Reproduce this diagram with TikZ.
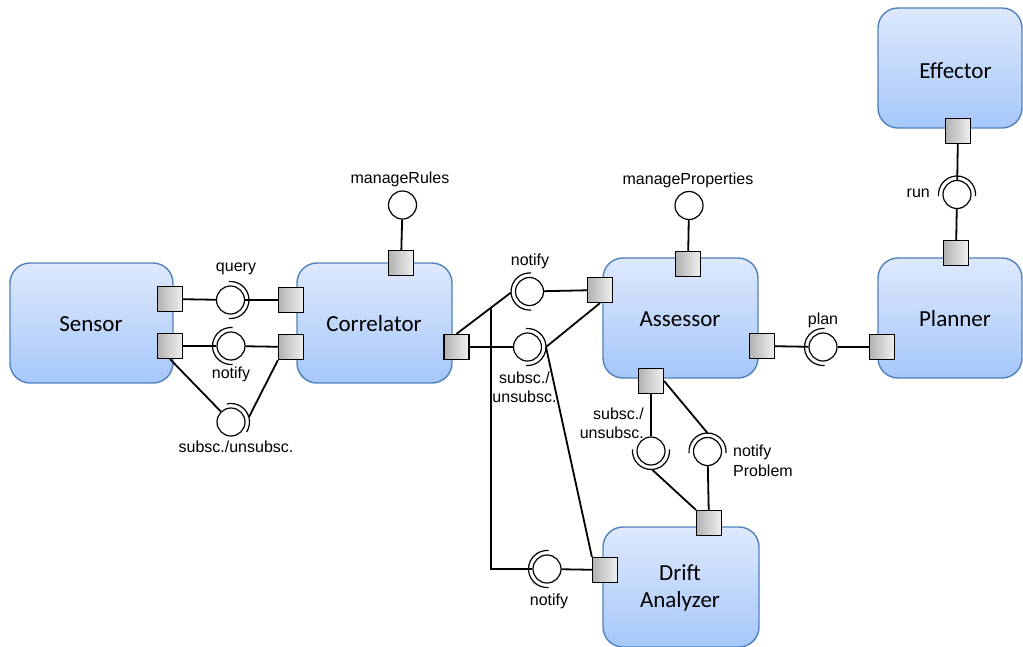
\documentclass[tikz,border=0pt]{standalone}
\usepackage{fontspec}
\setmainfont{Carlito}
\newfontfamily\labelfont{Liberation Sans}
\usetikzlibrary{calc}

\definecolor{boxline}{RGB}{79,129,189}
\definecolor{boxtop}{RGB}{222,233,252}
\definecolor{boxbot}{RGB}{166,199,250}
\definecolor{portl}{RGB}{178,178,178}
\definecolor{portr}{RGB}{240,240,240}

% half-circle socket around an interface circle; #3 = page direction of the opening side, #1 = half span
\newcommand\socketarc[3][95]{%
  \draw[sock] (#2.center) ++({-(#3)-(#1)}:18.5)
    arc[start angle={-(#3)-(#1)}, end angle={-(#3)+(#1)}, radius=18.5];}

\begin{document}
\begin{tikzpicture}[x=1pt,y=-1pt,
  comp/.style={draw=boxline, line width=1.4pt, rounded corners=20pt,
    top color=boxtop, bottom color=boxbot, inner sep=0pt},
  ctext/.style={font=\fontsize{23}{27}\selectfont, inner sep=0pt, anchor=base},
  port/.style={draw=black, line width=1.2pt, left color=portl, right color=portr,
    minimum size=25pt, inner sep=0pt},
  iface/.style={circle, draw=black, line width=1.2pt, fill=white,
    minimum size=28pt, inner sep=0pt},
  sock/.style={line width=1.2pt, black},
  wire/.style={line width=1.8pt, black},
  lbl/.style={font=\labelfont\fontsize{16}{19.5}\selectfont, inner sep=0pt}]

\useasboundingbox (0,0) rectangle (1023,646);

% components
\node[comp, minimum width=163pt, minimum height=120pt] (sensor) at (91.5,323) {};
\node[comp, minimum width=155pt, minimum height=120pt] (correlator) at (374.5,323) {};
\node[comp, minimum width=155pt, minimum height=120pt] (assessor) at (680.5,318) {};
\node[comp, minimum width=144pt, minimum height=120pt] (planner) at (950,318) {};
\node[comp, minimum width=144pt, minimum height=120pt] (effector) at (950,68) {};
\node[comp, minimum width=156pt, minimum height=120pt] (drift) at (681,587) {};

\node[ctext] (sensorT) at (91,331) {Sensor};
\node[ctext] (correlatorT) at (374,331) {Correlator};
\node[ctext] (assessorT) at (680,326) {Assessor};
\node[ctext] (plannerT) at (955,326.5) {Planner};
\node[ctext] (effectorT) at (955.5,78) {Effector};
\node[ctext] (driftT1) at (680,580) {Drift};
\node[ctext] (driftT2) at (680,607) {Analyzer};

% ports
\node[port] (sp1) at (170,299) {};
\node[port] (sp2) at (170,346) {};
\node[port] (cp1) at (291,300) {};
\node[port] (cp2) at (291,347) {};
\node[port] (cpt) at (401,263) {};
\node[port] (cpr) at (456.5,347) {};
\node[port] (ap1) at (600,290) {};
\node[port] (apt) at (688,264) {};
\node[port] (apr) at (762,346) {};
\node[port] (apb) at (651,381) {};
\node[port] (pl) at (882,347) {};
\node[port] (pt) at (956,253) {};
\node[port] (ef) at (958,131) {};
\node[port] (dt) at (709,523) {};
\node[port] (dl) at (605,570) {};

% interfaces
\node[iface] (q) at (230.5,300) {};
\node[iface] (n1) at (231,346) {};
\node[iface] (s1) at (231,422) {};
\node[iface] (mr) at (402.5,205) {};
\node[iface] (n2) at (529.5,291.5) {};
\node[iface] (s2) at (527.5,347) {};
\node[iface] (n3) at (547,569) {};
\node[iface] (mp) at (689,205.5) {};
\node[iface] (s3) at (651,451) {};
\node[iface] (np) at (707.5,451.5) {};
\node[iface] (p) at (823,347) {};
\node[iface] (r) at (957,194.5) {};

% sockets
\socketarc{q}{0}
\socketarc{n1}{180}
\socketarc[68]{s1}{35}
\socketarc{n2}{180}
\socketarc{s2}{0}
\socketarc{n3}{180}
\socketarc{s3}{-90}
\socketarc{np}{90}
\socketarc{p}{180}
\socketarc{r}{90}

% attachment points on the sockets
\coordinate (s1a) at ($(s1.center)+(18,-5)$);
\coordinate (n2a) at ($(n2.center)+(-18.5,1)$);
\coordinate (s2a) at ($(s2.center)+(18.5,0)$);
\coordinate (s3a) at ($(s3.center)+(1,18.5)$);
\coordinate (npa) at ($(np.center)+(0,-18.5)$);
\coordinate (jn) at ($(cpr.north)!0.64!(n2a)$);

% connectors
\draw[wire] (sp1) -- (q);
\draw[wire] (q) -- (cp1);
\draw[wire] (sp2) -- (n1);
\draw[wire] (n1) -- (cp2);
\draw[wire] (sp2.south) -- (s1);
\draw[wire] (cp2.south west) -- (s1a);
\draw[wire] (cpt) -- (mr);
\draw[wire] (cpr.north) -- (n2a);
\draw[wire] (n2) -- (ap1);
\draw[wire] (cpr) -- (s2);
\draw[wire] (ap1.south) -- (s2a);
\draw[wire] (s2a) -- (dl.north west);
\draw[wire] (jn) |- (n3);
\draw[wire] (n3) -- (dl);
\draw[wire] (apt) -- (mp);
\draw[wire] (apb) -- (s3);
\draw[wire] (s3a) -- (dt.north west);
\draw[wire] (apb.east) -- (npa);
\draw[wire] (np) -- (dt);
\draw[wire] (apr) -- (p);
\draw[wire] (p) -- (pl);
\draw[wire] (ef) -- (r);
\draw[wire] (r) -- (pt);

% labels
\node[lbl, anchor=base] (lq) at (236,271.5) {query};
\node[lbl, anchor=base] (ln1) at (231,378) {notify};
\node[lbl, anchor=base] (ls1) at (236,452) {subsc./unsubsc.};
\node[lbl, anchor=base] (lmr) at (400,183) {manageRules};
\node[lbl, anchor=base] (ln2) at (530,265.5) {notify};
\node[lbl, anchor=north, align=center] (ls2) at (524.5,371.4) {subsc./\\unsubsc.};
\node[lbl, anchor=base] (ln3) at (549,605) {notify};
\node[lbl, anchor=base] (lmp) at (688,184.7) {manageProperties};
\node[lbl, anchor=north east, align=right] (ls3) at (644,407.4) {subsc./\\unsubsc.};
\node[lbl, anchor=north west, align=left] (lnp) at (733,445) {notify\\Problem};
\node[lbl, anchor=base] (lp) at (823,324.6) {plan};
\node[lbl, anchor=base east] (lr) at (930,197) {run};

\end{tikzpicture}
\end{document}
